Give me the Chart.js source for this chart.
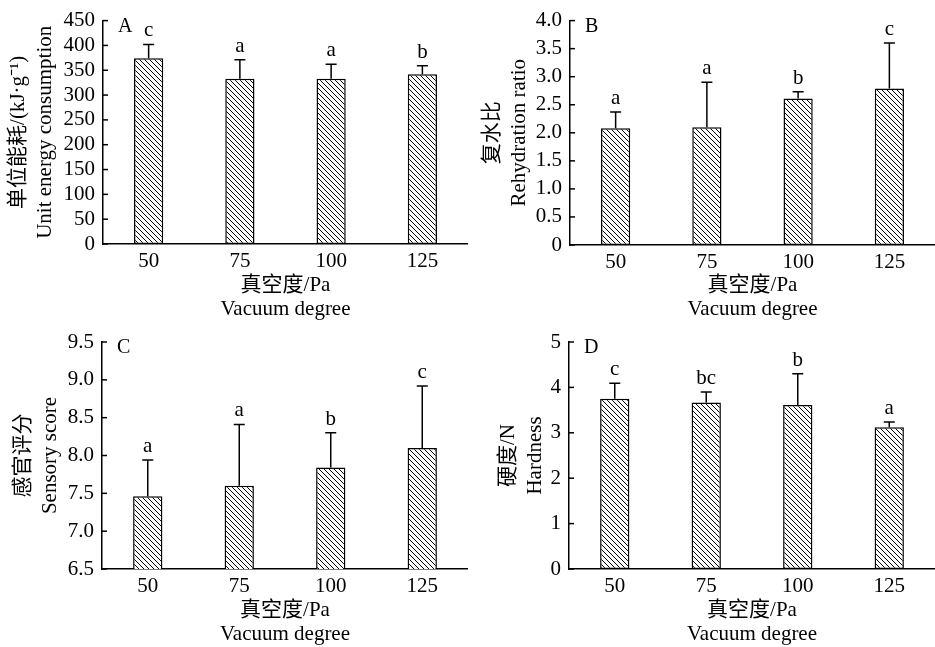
<!DOCTYPE html>
<html>
<head>
<meta charset="utf-8">
<script src="https://cdn.jsdelivr.net/npm/chart.js@4/dist/chart.umd.min.js"></script>
<style>
  body { margin: 0; background: #fff; }
  #wrap { position: relative; width: 935px; height: 647px; }
  canvas { position: absolute; }
</style>
</head>
<body>
<div id="wrap">
  <canvas id="chartA" width="468" height="322" style="left:0;top:0"></canvas>
  <canvas id="chartB" width="468" height="322" style="left:467px;top:0"></canvas>
  <canvas id="chartC" width="468" height="327" style="left:0;top:320px"></canvas>
  <canvas id="chartD" width="468" height="327" style="left:467px;top:320px"></canvas>
</div>
<script>
var vacuumLevels = ['50', '75', '100', '125'];

var energyMean = [374, 333, 333, 342];
var energySd = [28, 38, 29, 17];
var energyLetters = ['c', 'a', 'a', 'b'];

var rehydrationMean = [2.08, 2.10, 2.61, 2.79];
var rehydrationSd = [0.29, 0.80, 0.12, 0.81];
var rehydrationLetters = ['a', 'a', 'b', 'c'];

var sensoryMean = [7.46, 7.60, 7.84, 8.10];
var sensorySd = [0.48, 0.81, 0.46, 0.82];
var sensoryLetters = ['a', 'a', 'b', 'c'];

var hardnessMean = [3.75, 3.67, 3.61, 3.12];
var hardnessSd = [0.34, 0.23, 0.69, 0.12];
var hardnessLetters = ['c', 'bc', 'b', 'a'];

var FONT = "'Liberation Serif', 'Times New Roman', 'Noto Sans CJK SC', serif";

function makeHatch() {
    var c = document.createElement('canvas');
    c.width = 5;
    c.height = 5;
    var x = c.getContext('2d');
    x.fillStyle = '#fff';
    x.fillRect(0, 0, 5, 5);
    x.strokeStyle = '#000';
    x.lineWidth = 1;
    x.beginPath();
    x.moveTo(-1, -1); x.lineTo(6, 6);
    x.moveTo(-1, 4); x.lineTo(1, 6);
    x.moveTo(4, -1); x.lineTo(6, 1);
    x.stroke();
    return x.createPattern(c, 'repeat');
}

// inward y ticks, error bars, significance letters, panel letter
var extrasPlugin = {
    id: 'extras',
    afterDatasetsDraw: function (chart) {
        var ctx = chart.ctx;
        var ys = chart.scales.y;
        var area = chart.chartArea;
        var o = chart.options.plugins.extras;
        ctx.save();
        ctx.strokeStyle = '#000';
        ctx.lineWidth = 1.5;
        ys.ticks.forEach(function (t) {
            var py = ys.getPixelForValue(t.value);
            ctx.beginPath();
            ctx.moveTo(area.left, py);
            ctx.lineTo(area.left + 5, py);
            ctx.stroke();
        });
        var meta = chart.getDatasetMeta(0);
        var vals = chart.data.datasets[0].data;
        ctx.fillStyle = '#000';
        ctx.font = '21px ' + FONT;
        ctx.textAlign = 'center';
        ctx.textBaseline = 'alphabetic';
        meta.data.forEach(function (bar, i) {
            var top = ys.getPixelForValue(vals[i] + o.sd[i]);
            var base = ys.getPixelForValue(vals[i]);
            ctx.beginPath();
            ctx.moveTo(bar.x, base);
            ctx.lineTo(bar.x, top);
            ctx.moveTo(bar.x - 5.5, top);
            ctx.lineTo(bar.x + 5.5, top);
            ctx.stroke();
            ctx.fillText(o.letters[i], bar.x, top - 8);
        });
        ctx.textAlign = 'left';
        ctx.textBaseline = 'top';
        ctx.font = '20px ' + FONT;
        ctx.fillText(o.panel, area.left + 15, area.top - 4);
        ctx.restore();
    }
};

function drawPanel(id, cfg) {
    var canvas = document.getElementById(id);
    var ch = canvas.height;
    new Chart(canvas, {
        type: 'bar',
        data: {
            labels: vacuumLevels,
            datasets: [{
                data: cfg.mean,
                backgroundColor: makeHatch(),
                borderColor: '#000',
                borderWidth: 1.5,
                borderSkipped: false,
                categoryPercentage: 1,
                barPercentage: 0.32
            }]
        },
        options: {
            responsive: false,
            animation: false,
            devicePixelRatio: 1,
            layout: { padding: { top: cfg.padTop, left: 0, right: 0, bottom: 0 } },
            plugins: {
                legend: { display: false },
                tooltip: { enabled: false },
                extras: { sd: cfg.sd, letters: cfg.letters, panel: cfg.panel }
            },
            scales: {
                x: {
                    grid: { display: false, drawTicks: false },
                    border: { display: true, color: '#000', width: 1.5 },
                    ticks: { color: '#000', padding: 5, font: { family: FONT, size: 21 }, maxRotation: 0 },
                    title: {
                        display: true,
                        text: ['真空度/Pa', 'Vacuum degree'],
                        color: '#000',
                        font: { family: FONT, size: 21, lineHeight: 1.15 },
                        padding: { top: 0, bottom: 0 }
                    },
                    afterFit: function (s) { s.height = ch - cfg.axisY; }
                },
                y: {
                    min: cfg.min,
                    max: cfg.max,
                    grid: { display: false, drawTicks: false },
                    border: { display: true, color: '#000', width: 1.5 },
                    ticks: {
                        stepSize: cfg.step,
                        autoSkip: false,
                        color: '#000',
                        padding: 8,
                        font: { family: FONT, size: 21 },
                        callback: function (v) { return cfg.fmt(v); }
                    },
                    title: {
                        display: true,
                        text: cfg.title,
                        color: '#000',
                        font: { family: FONT, size: 21, lineHeight: 1.3 },
                        padding: { top: cfg.titlePad, bottom: 0 }
                    },
                    afterFit: function (s) { s.width = cfg.yWidth; }
                }
            }
        },
        plugins: [extrasPlugin]
    });
}

function plain(v) { return String(v); }
function oneDec(v) { return v === 0 ? '0' : v.toFixed(1); }

drawPanel('chartA', {
    mean: energyMean, sd: energySd, letters: energyLetters, panel: 'A',
    min: 0, max: 450, step: 50, fmt: plain,
    title: ['单位能耗/(kJ·g⁻¹)', 'Unit energy consumption'],
    titlePad: 5, yWidth: 103, padTop: 19, axisY: 244
});
drawPanel('chartB', {
    mean: rehydrationMean, sd: rehydrationSd, letters: rehydrationLetters, panel: 'B',
    min: 0, max: 4, step: 0.5, fmt: oneDec,
    title: ['复水比', 'Rehydration ratio'],
    titlePad: 12, yWidth: 103, padTop: 18, axisY: 245
});
drawPanel('chartC', {
    mean: sensoryMean, sd: sensorySd, letters: sensoryLetters, panel: 'C',
    min: 6.5, max: 9.5, step: 0.5, fmt: function (v) { return v.toFixed(1); },
    title: ['感官评分', 'Sensory score'],
    titlePad: 10, yWidth: 102, padTop: 22, axisY: 249
});
drawPanel('chartD', {
    mean: hardnessMean, sd: hardnessSd, letters: hardnessLetters, panel: 'D',
    min: 0, max: 5, step: 1, fmt: plain,
    title: ['硬度/N', 'Hardness'],
    titlePad: 28, yWidth: 102, padTop: 22, axisY: 249
});
</script>
</body>
</html>
